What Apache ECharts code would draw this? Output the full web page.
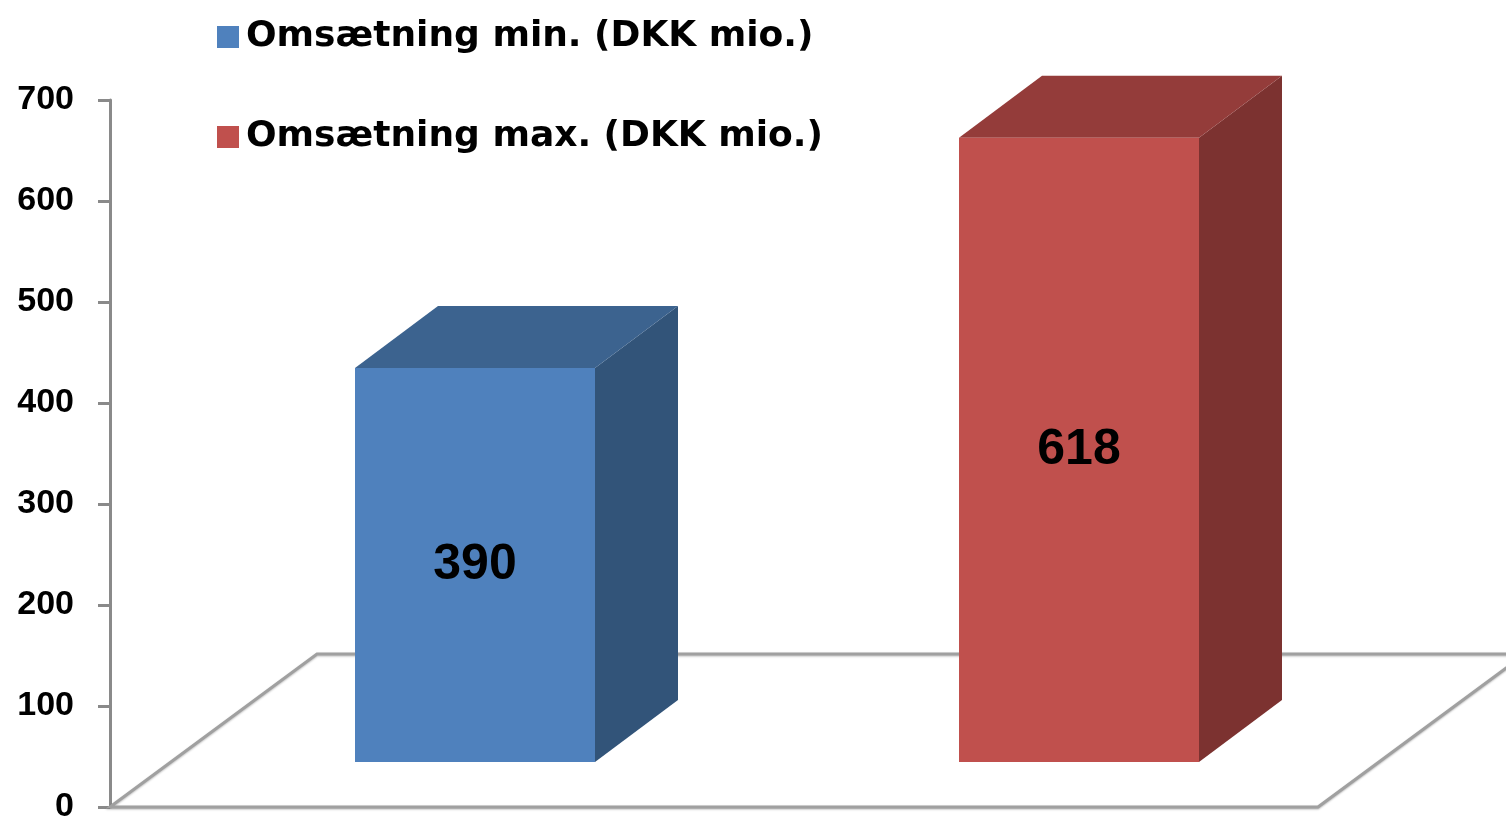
<!DOCTYPE html>
<html>
<head>
<meta charset="utf-8">
<script src="https://cdn.jsdelivr.net/npm/echarts@6/dist/echarts.min.js"></script>
<style>
  html, body { margin: 0; padding: 0; background: #fff; }
  #main { width: 1506px; height: 824px; }
</style>
</head>
<body>
<div id="main"></div>
<script>
// data
const categories = ["min", "max"];
const seriesNames = ["Omsætning min. (DKK mio.)", "Omsætning max. (DKK mio.)"];
const values = [390, 618];
const yTicks = [0, 100, 200, 300, 400, 500, 600, 700];

// 3d look: front / top / side shades
const shades = [
  { front: "#4F81BD", top: "#3C638F", side: "#325479" },
  { front: "#C0504D", top: "#943C3A", side: "#7C3230" }
];

const chart = echarts.init(document.getElementById("main"));

function makeBar(c) {
  return function (params, api) {
    const idx = api.value(0);
    const v = api.value(1);
    const base = api.coord([idx, 0]);
    const top = api.coord([idx, v]);
    const h = base[1] - top[1];
    const w = 240;
    const x = base[0] + 63 - w / 2;
    const y = base[1] - 45 - h;
    const dx = 83, dy = -62;
    return {
      type: "group",
      children: [
        {
          type: "polygon",
          shape: { points: [[x + w, y], [x + w + dx, y + dy], [x + w + dx, y + h + dy], [x + w, y + h]] },
          style: { fill: c.side }
        },
        {
          type: "polygon",
          shape: { points: [[x, y], [x + dx, y + dy], [x + w + dx, y + dy], [x + w, y]] },
          style: { fill: c.top }
        },
        {
          type: "rect",
          shape: { x: x, y: y, width: w, height: h },
          style: { fill: c.front }
        },
        {
          type: "text",
          x: x + w / 2,
          y: y + h / 2,
          style: {
            text: String(v),
            fill: "#000",
            align: "center",
            verticalAlign: "middle",
            fontFamily: "Liberation Sans",
            fontWeight: "bold",
            fontSize: 50
          }
        }
      ]
    };
  };
}

function renderFloor(params, api) {
  const cs = params.coordSys;
  const x0 = cs.x, y0 = cs.y + cs.height, x1 = cs.x + cs.width;
  const dx = 207, dy = -153;
  return {
    type: "polygon",
    shape: { points: [[x0, y0], [x0 + dx, y0 + dy], [x1 + dx, y0 + dy], [x1, y0]] },
    style: {
      fill: "#fff",
      stroke: "#a0a0a0",
      lineWidth: 3,
      shadowColor: "rgba(0,0,0,0.25)",
      shadowBlur: 2,
      shadowOffsetY: 1
    }
  };
}

const option = {
  backgroundColor: "#fff",
  animation: false,
  grid: {
    left: 110,
    right: 188,
    top: 100,
    bottom: 14,
    containLabel: false
  },
  legend: {
    data: seriesNames,
    orient: "vertical",
    left: 212,
    top: 12,
    icon: "rect",
    itemWidth: 22,
    itemHeight: 22,
    itemGap: 60,
    selectedMode: false,
    textStyle: {
      color: "#000",
      fontFamily: "DejaVu Sans",
      fontWeight: "bold",
      fontSize: 36,
      lineHeight: 40,
      padding: [0, 0, 0, 2],
      textShadowColor: "rgba(0,0,0,0.3)",
      textShadowOffsetX: 1,
      textShadowOffsetY: 1
    }
  },
  xAxis: {
    type: "category",
    data: categories,
    show: false
  },
  yAxis: {
    type: "value",
    min: yTicks[0],
    max: yTicks[yTicks.length - 1],
    interval: 100,
    axisLine: {
      show: true,
      lineStyle: { color: "#8a8a8a", width: 3 }
    },
    axisTick: {
      show: true,
      length: 12,
      lineStyle: { color: "#8a8a8a", width: 3 }
    },
    axisLabel: {
      margin: 36,
      color: "#000",
      fontFamily: "Liberation Sans",
      fontWeight: "bold",
      fontSize: 34,
      textShadowColor: "rgba(0,0,0,0.3)",
      textShadowOffsetX: 1,
      textShadowOffsetY: 1
    },
    splitLine: { show: false }
  },
  series: [
    {
      name: "floor",
      type: "custom",
      silent: true,
      z: 1,
      renderItem: renderFloor,
      data: [[0, 0]]
    },
    {
      name: seriesNames[0],
      type: "custom",
      silent: true,
      z: 2,
      itemStyle: { color: shades[0].front },
      renderItem: makeBar(shades[0]),
      encode: { x: 0, y: 1 },
      data: [[0, values[0]]]
    },
    {
      name: seriesNames[1],
      type: "custom",
      silent: true,
      z: 2,
      itemStyle: { color: shades[1].front },
      renderItem: makeBar(shades[1]),
      encode: { x: 0, y: 1 },
      data: [[1, values[1]]]
    }
  ]
};

chart.setOption(option);
</script>
</body>
</html>
